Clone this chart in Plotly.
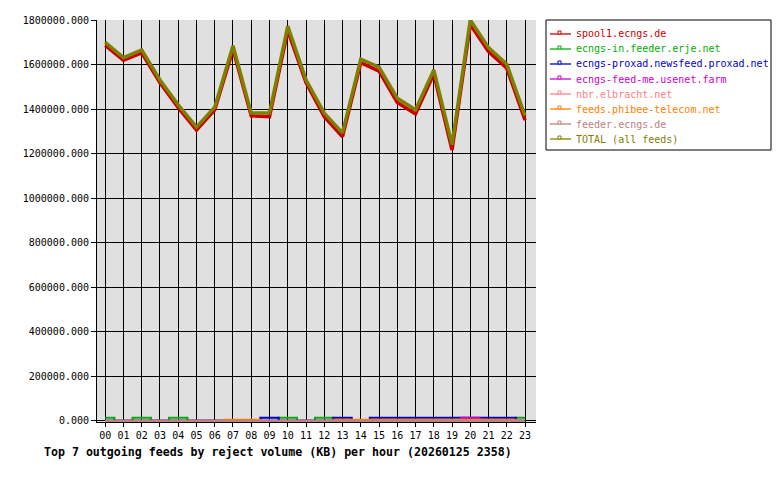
import plotly.graph_objects as go

hours = ["00", "01", "02", "03", "04", "05", "06", "07", "08", "09", "10", "11",
         "12", "13", "14", "15", "16", "17", "18", "19", "20", "21", "22", "23"]

feed_names = ["spool1.ecngs.de", "ecngs-in.feeder.erje.net", "ecngs-proxad.newsfeed.proxad.net",
              "ecngs-feed-me.usenet.farm", "nbr.elbracht.net", "feeds.phibee-telecom.net",
              "feeder.ecngs.de", "TOTAL (all feeds)"]
feed_colors = ["#cc0000", "#00b000", "#0000cc", "#cc00cc", "#ff8080", "#ff8000", "#c08080", "#808000"]

spool1 = [1686000, 1619000, 1652000, 1518000, 1406000, 1306000, 1396000, 1668000, 1370000, 1366000,
          1752000, 1519000, 1366000, 1276000, 1608000, 1570000, 1430000, 1378000, 1558000, 1216000,
          1780000, 1658000, 1583000, 1350000]
ecngs_in = [14000, 0, 14000, 0, 14000, 0, 0, 0, 0, 0, 14000, 0,
            14000, 0, 0, 0, 0, 0, 0, 0, 0, 0, 0, 14000]
proxad = [0, 0, 0, 0, 0, 0, 0, 0, 0, 14000, 0, 0,
          0, 14000, 0, 14000, 14000, 14000, 14000, 14000, 14000, 14000, 14000, 0]
feed_me = [0, 0, 0, 0, 0, 0, 0, 0, 0, 0, 0, 0,
           0, 0, 0, 0, 0, 0, 0, 0, 14000, 0, 0, 0]
nbr = [0] * 24
phibee = [0, 0, 0, 0, 0, 0, 0, 6000, 6000, 0, 0, 0,
          0, 6000, 6000, 6000, 6000, 6000, 6000, 6000, 6000, 6000, 6000, 0]
feeder_ecngs = [0] * 24
total = [1700000, 1631000, 1666000, 1531000, 1419000, 1319000, 1409000, 1684000, 1382000, 1382000,
         1773000, 1531000, 1382000, 1293000, 1624000, 1588000, 1449000, 1397000, 1576000, 1240000,
         1800000, 1676000, 1601000, 1370000]

y_ticks = [0, 200000, 400000, 600000, 800000, 1000000, 1200000, 1400000, 1600000, 1800000]
title_text = "Top 7 outgoing feeds by reject volume (KB) per hour (20260125 2358)"

series = [spool1, ecngs_in, proxad, feed_me, nbr, phibee, feeder_ecngs, total]
widths = [3.5, 2.2, 2.2, 2.2, 1.5, 1.5, 2.5, 3.5]
shapes_line = ["linear", "hvh", "hvh", "hvh", "hvh", "hvh", "linear", "linear"]

# page pixel geometry (the page body adds an 8px offset)
OFF = 8
W, H = 780, 480
L, R, T, B = 97 - OFF, 536 - OFF, 20 - OFF, 422 - OFF
MONO = "DejaVu Sans Mono"

def px(x):
    return (x - OFF - L) / (R - L)

def py(y):
    return (B - (y - OFF)) / (B - T)

xs = list(range(len(hours)))
fig = go.Figure()
for name, color, vals, w, shp in zip(feed_names, feed_colors, series, widths, shapes_line):
    fig.add_trace(go.Scatter(x=xs, y=vals, name=name, mode="lines",
                             line=dict(color=color, width=w, shape=shp),
                             showlegend=False, hoverinfo="x+y+name"))

fig.update_layout(
    width=W, height=H,
    margin=dict(l=L, r=W - R, t=T, b=H - B, autoexpand=False),
    paper_bgcolor="white", plot_bgcolor="#e0e0e0",
    font=dict(family=MONO, size=10, color="black"),
    showlegend=False,
)
fig.update_xaxes(
    range=[-0.45, 23.6], tickmode="array", tickvals=xs, ticktext=hours,
    showgrid=True, gridcolor="black", gridwidth=1,
    showline=True, linecolor="black", linewidth=1,
    ticks="outside", ticklen=4, tickcolor="black", zeroline=False,
    tickfont=dict(family=MONO, size=10, color="black"),
)
fig.update_yaxes(
    range=[-5000, 1800000], tickmode="array", tickvals=y_ticks, tickformat=".3f",
    showgrid=True, gridcolor="black", gridwidth=1,
    showline=True, linecolor="black", linewidth=1,
    ticks="outside", ticklen=5, tickcolor="black", zeroline=False,
    tickfont=dict(family=MONO, size=10, color="black"),
)

# manual legend box
box_l, box_r, box_t, box_b = 546, 771, 20, 150
fig.add_shape(type="rect", xref="paper", yref="paper",
              x0=px(box_l), x1=px(box_r), y0=py(box_b), y1=py(box_t),
              line=dict(color="black", width=1), fillcolor="white", layer="above")
row0, row_h = 34, 15
for i, (name, color) in enumerate(zip(feed_names, feed_colors)):
    yc = row0 + i * row_h
    fig.add_shape(type="line", xref="paper", yref="paper",
                  x0=px(550), x1=px(571), y0=py(yc), y1=py(yc),
                  line=dict(color=color, width=1.3), layer="above")
    fig.add_shape(type="rect", xref="paper", yref="paper",
                  x0=px(558), x1=px(561), y0=py(yc), y1=py(yc - 3),
                  line=dict(color=color, width=1), fillcolor="white", layer="above")
    fig.add_annotation(xref="paper", yref="paper", x=px(574), y=py(yc),
                       xanchor="left", yanchor="middle", showarrow=False, text=name,
                       font=dict(family=MONO, size=10, color=color))

fig.add_annotation(xref="paper", yref="paper", x=px(42), y=py(452),
                   xanchor="left", yanchor="middle", showarrow=False, text="<b>" + title_text + "</b>",
                   font=dict(family=MONO, size=11.6, color="black"))

fig.write_html("out.html")
